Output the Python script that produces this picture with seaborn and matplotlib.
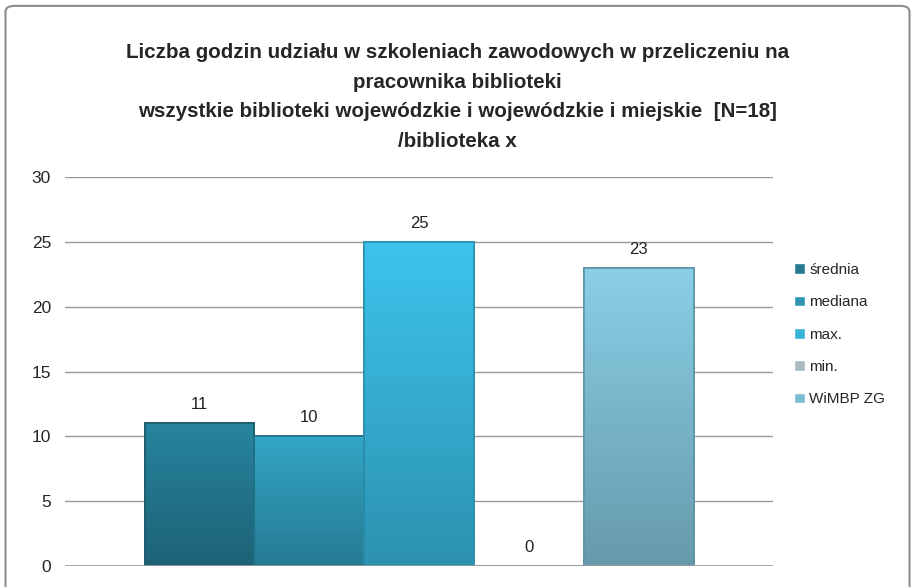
import numpy as np
import pandas as pd
import seaborn as sns
import matplotlib.pyplot as plt
from matplotlib.colors import LinearSegmentedColormap, to_rgb
from matplotlib.patches import FancyBboxPatch

# values
series = ['średnia', 'mediana', 'max.', 'min.', 'WiMBP ZG']
values = [11, 10, 25, 0, 23]
colors = ['#247890', '#2e96b3', '#37b2d7', '#a9bcc4', '#7dbcd1']
edges = ['#1b5a6c', '#21738a', '#2a8fae', '#7f959e', '#5c96a8']
title = ('Liczba godzin udziału w szkoleniach zawodowych w przeliczeniu na\n'
         'pracownika biblioteki\n'
         'wszystkie biblioteki wojewódzkie i wojewódzkie i miejskie  [N=18]\n'
         '/biblioteka x')

df = pd.DataFrame({'grupa': [''] * len(series), 'seria': series, 'wartosc': values})

sns.set_style('white')
plt.rcParams['font.family'] = ['Liberation Sans', 'DejaVu Sans']

fig = plt.figure(figsize=(9.15, 5.87), dpi=100)
ax = fig.add_axes([0.071, 0.036, 0.774, 0.662])

sns.barplot(data=df, x='grupa', y='wartosc', hue='seria', hue_order=series,
            palette=colors, saturation=1, width=0.775, ax=ax, legend=True)

ax.set_ylim(0, 30)
ax.set_xlim(-0.5, 0.5)

# vertical gradient inside each bar (lighter top, darker bottom)
grad = np.linspace(1, 0, 64).reshape(-1, 1)
for cont, c, ec in zip(ax.containers, colors, edges):
    base = np.array(to_rgb(c))
    cmap = LinearSegmentedColormap.from_list('g', [base * 0.82, np.minimum(base * 1.1, 1)])
    for bar in cont:
        bar.set_edgecolor(ec)
        bar.set_linewidth(1.2)
        x0, y0 = bar.get_x(), bar.get_y()
        w, h = bar.get_width(), bar.get_height()
        if h > 0:
            im = ax.imshow(grad, cmap=cmap, aspect='auto', origin='upper',
                           extent=(x0, x0 + w, y0, y0 + h), zorder=bar.get_zorder() + 0.1)
            im.set_clip_path(bar)
            edge = plt.Rectangle((x0, y0), w, h, fill=False, edgecolor=ec,
                                 linewidth=1.2, zorder=bar.get_zorder() + 0.2)
            ax.add_patch(edge)
    ax.bar_label(cont, fmt='%d', padding=8, fontsize=12, color='#222222')

ax.set_ylim(0, 30)
ax.set_xlim(-0.5, 0.5)
ax.set_yticks(range(0, 31, 5))
ax.tick_params(axis='y', labelsize=12.5, length=0, pad=10)
ax.set_xticks([])
ax.set_xlabel('')
ax.set_ylabel('')
ax.yaxis.grid(True, color='#9a9a9a', linewidth=1)
ax.set_axisbelow(True)
for s in ax.spines.values():
    s.set_visible(False)
ax.axhline(0, color='#9a9a9a', linewidth=1.2)

leg = ax.legend(loc='center left', bbox_to_anchor=(1.01, 0.595), frameon=False,
                fontsize=11, handlelength=0.7, handleheight=0.7, handletextpad=0.3,
                labelspacing=1.2)

fig.text(0.5, 0.835, title, ha='center', va='center', fontsize=14.8,
         fontweight='bold', linespacing=1.7)

fig.patches.append(FancyBboxPatch((0.006, -0.02), 0.988, 1.01,
                                  boxstyle='round,pad=0,rounding_size=0.01',
                                  transform=fig.transFigure, fill=False,
                                  edgecolor='#8c8c8c', linewidth=1.5))

fig.savefig('out.png', dpi=100)
